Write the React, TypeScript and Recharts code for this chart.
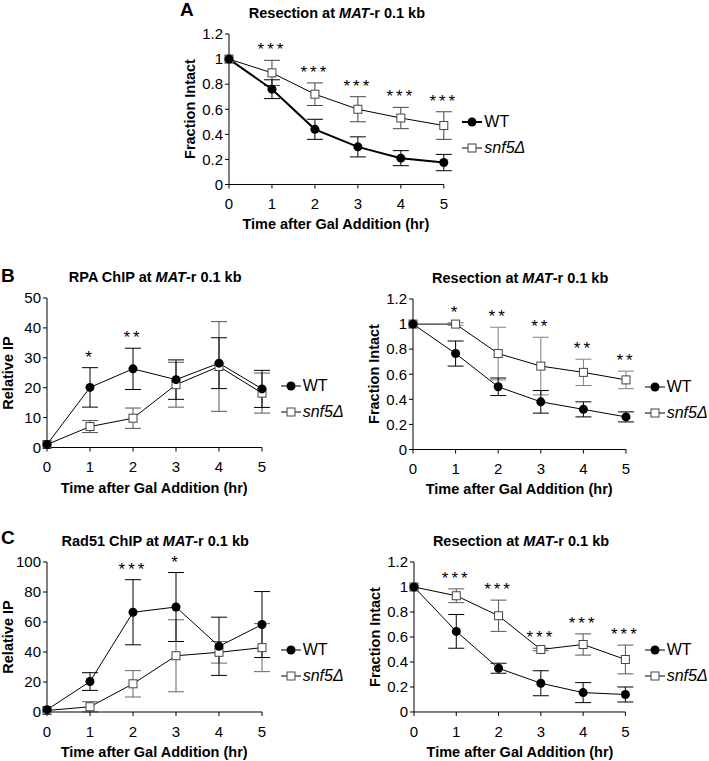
import React from "react";
import { LineChart, Line, XAxis, YAxis, ErrorBar, Legend, LabelList } from "recharts";

const FONT = '"Liberation Sans", Arial, sans-serif';

const hours = [0, 1, 2, 3, 4, 5];
const fracTicks = [0, 0.2, 0.4, 0.6, 0.8, 1, 1.2];
const rpaTicks = [0, 10, 20, 30, 40, 50];
const rad51Ticks = [0, 20, 40, 60, 80, 100];

// A - resection at MAT-r 0.1 kb
const resA_wt = [1, 0.76, 0.44, 0.3, 0.21, 0.175];
const resA_wtErr = [0, 0.075, 0.08, 0.08, 0.06, 0.065];
const resA_snf = [1, 0.89, 0.72, 0.6, 0.53, 0.47];
const resA_snfErr = [0, 0.1, 0.09, 0.1, 0.085, 0.11];
const resA_sig = ["", "***", "***", "***", "***", "***"];

// B - RPA ChIP
const rpa_wt = [1, 20.1, 26.3, 22.7, 28.2, 19.6];
const rpa_wtErr = [0, 6.6, 6.9, 6.6, 8.5, 6.2];
const rpa_snf = [1, 7, 9.8, 21, 27.1, 18.2];
const rpa_snfErr = [0, 2, 3.4, 7.5, 15, 6.7];
const rpa_sig = ["", "*", "**", "", "", ""];

// B - resection
const resB_wt = [1, 0.765, 0.5, 0.38, 0.32, 0.26];
const resB_wtErr = [0, 0.1, 0.07, 0.09, 0.06, 0.04];
const resB_snf = [1, 1, 0.765, 0.665, 0.615, 0.555];
const resB_snfErr = [0, 0.01, 0.21, 0.23, 0.105, 0.07];
const resB_sig = ["", "*", "**", "**", "**", "**"];

// C - Rad51 ChIP
const rad51_wt = [1.5, 20.3, 66.5, 70, 43.8, 58.3];
const rad51_wtErr = [0, 5.9, 21.7, 23, 19.4, 22];
const rad51_snf = [1, 3.5, 18.8, 37.5, 39.8, 42.9];
const rad51_snfErr = [0, 3.4, 8.8, 24, 7.2, 16];
const rad51_sig = ["", "", "***", "*", "", ""];

// C - resection
const resC_wt = [1, 0.645, 0.35, 0.23, 0.155, 0.14];
const resC_wtErr = [0, 0.135, 0.04, 0.1, 0.08, 0.06];
const resC_snf = [1, 0.93, 0.77, 0.5, 0.54, 0.42];
const resC_snfErr = [0, 0.055, 0.125, 0.01, 0.085, 0.115];
const resC_sig = ["", "***", "***", "***", "***", "***"];

const rows = (wt: number[], wtErr: number[], snf: number[], snfErr: number[], sig: string[]) =>
  hours.map((h, i) => ({
    h,
    wt: wt[i],
    wtErr: wtErr[i],
    snf: snf[i],
    snfErr: snfErr[i],
    sig: sig[i],
    top: Math.max(wt[i] + wtErr[i], snf[i] + snfErr[i]),
  }));

const SquareDot = (p: any) => (
  <rect key={`sq-${p.index}`} x={p.cx - 4} y={p.cy - 4} width={8} height={8} fill="#fff" stroke="#444" strokeWidth={1} />
);

const legendContent = (wtWidth: number) => (props: any) => {
  const order = ["wt", "snf"];
  const items = (props.payload || [])
    .filter((e: any) => order.includes(e.dataKey))
    .sort((a: any, b: any) => order.indexOf(a.dataKey) - order.indexOf(b.dataKey));
  return (
    <div style={{ fontFamily: FONT, fontSize: 16, color: "#000" }}>
      {items.map((entry: any) => (
        <div key={entry.dataKey} style={{ display: "flex", alignItems: "center", height: 26 }}>
          <svg width={20} height={12} style={{ display: "block" }}>
            <line x1={0} x2={20} y1={6} y2={6} stroke="#000" strokeWidth={entry.dataKey === "wt" ? wtWidth : 1} />
            {entry.dataKey === "wt" ? (
              <circle cx={10} cy={6} r={4.5} fill="#000" />
            ) : (
              <rect x={6} y={2} width={8} height={8} fill="#fff" stroke="#444" />
            )}
          </svg>
          <span style={{ marginLeft: 2, fontStyle: entry.dataKey === "snf" ? "italic" : "normal" }}>
            {entry.dataKey === "snf" ? "snf5\u0394" : "WT"}
          </span>
        </div>
      ))}
    </div>
  );
};

type PanelProps = {
  data: any[];
  x0: number;
  y0: number;
  w: number;
  h: number;
  yMax: number;
  yTicks: number[];
  yLabel: string;
  title: React.ReactNode;
  letter?: string;
  letterX?: number;
  letterY?: number;
  wtWidth: number;
  snfErrColor: string;
};

const ML = 60;
const MT = 50;
const MR = 150;
const XH = 60;

function Panel(p: PanelProps) {
  const text = { position: "absolute" as const, fontFamily: FONT, color: "#000", whiteSpace: "nowrap" as const, lineHeight: 1 };
  return (
    <>
      {p.letter && (
        <div style={{ ...text, left: p.letterX, top: p.letterY, fontSize: 19, fontWeight: "bold", transform: "translateY(-50%)" }}>
          {p.letter}
        </div>
      )}
      <div style={{ ...text, left: p.x0 + p.w / 2 + 1, top: p.y0 - 21, fontSize: 14.5, fontWeight: "bold", transform: "translate(-50%,-50%)" }}>
        {p.title}
      </div>
      <div style={{ ...text, left: p.x0 - 39, top: p.y0 + p.h / 2, fontSize: 14.5, fontWeight: "bold", transform: "translate(-50%,-50%) rotate(-90deg)" }}>
        {p.yLabel}
      </div>
      <div style={{ ...text, left: p.x0 + p.w / 2, top: p.y0 + p.h + 40, fontSize: 14.5, fontWeight: "bold", transform: "translate(-50%,-50%)" }}>
        Time after Gal Addition (hr)
      </div>
      <div style={{ position: "absolute", left: p.x0 - ML, top: p.y0 - MT }}>
        <LineChart
          width={ML + p.w + MR}
          height={MT + p.h + XH}
          data={p.data}
          margin={{ top: MT, right: MR, bottom: 0, left: 0 }}
          style={{ fontFamily: FONT }}
        >
          <XAxis
            type="number"
            dataKey="h"
            domain={[0, 5]}
            ticks={hours}
            interval={0}
            height={XH}
            tickSize={4}
            tickMargin={10}
            tick={{ fontSize: 15, fill: "#000" }}
            axisLine={{ stroke: "#000" }}
            tickLine={{ stroke: "#000" }}
          />
          <YAxis
            type="number"
            domain={[0, p.yMax]}
            ticks={p.yTicks}
            interval={0}
            width={ML}
            tickSize={4}
            tickMargin={2}
            tick={{ fontSize: 15, fill: "#000" }}
            axisLine={{ stroke: "#000" }}
            tickLine={{ stroke: "#000" }}
          />
          <Legend
            layout="vertical"
            align="center"
            verticalAlign="middle"
            content={legendContent(p.wtWidth)}
            wrapperStyle={{ left: ML + p.w + 19, top: MT + p.h / 2, width: 130 }}
          />
          <Line
            dataKey="snf"
            name="snf5Δ"
            stroke="#000"
            strokeWidth={1}
            dot={SquareDot}
            activeDot={false}
            isAnimationActive={false}
          >
            <ErrorBar dataKey="snfErr" width={8} stroke={p.snfErrColor} strokeWidth={1} direction="y" />
          </Line>
          <Line
            dataKey="wt"
            name="WT"
            stroke="#000"
            strokeWidth={p.wtWidth}
            dot={{ r: 4.5, fill: "#000", stroke: "#000", strokeWidth: 0 }}
            activeDot={false}
            isAnimationActive={false}
          >
            <ErrorBar dataKey="wtErr" width={8} stroke="#000" strokeWidth={1} direction="y" />
          </Line>
          <Line
            dataKey="top"
            stroke="none"
            dot={false}
            activeDot={false}
            legendType="none"
            isAnimationActive={false}
          >
            <LabelList dataKey="sig" position="top" offset={5} fontSize={17} fill="#000" letterSpacing={3} />
          </Line>
        </LineChart>
      </div>
    </>
  );
}

const matTitle = (prefix: string) => (
  <span>
    {prefix} at <i>MAT</i>-r 0.1 kb
  </span>
);

export default function App() {
  return (
    <div style={{ position: "absolute", left: 0, top: 0, width: 709, height: 761, background: "#fff", overflow: "hidden" }}>
      <Panel
        data={rows(resA_wt, resA_wtErr, resA_snf, resA_snfErr, resA_sig)}
        x0={228.5}
        y0={33.5}
        w={214.8}
        h={150.5}
        yMax={1.2}
        yTicks={fracTicks}
        yLabel="Fraction Intact"
        title={matTitle("Resection")}
        letter="A"
        letterX={180}
        letterY={9}
        wtWidth={2}
        snfErrColor="#444"
      />
      <Panel
        data={rows(rpa_wt, rpa_wtErr, rpa_snf, rpa_snfErr, rpa_sig)}
        x0={46.7}
        y0={298}
        w={215}
        h={149.5}
        yMax={50}
        yTicks={rpaTicks}
        yLabel="Relative IP"
        title={matTitle("RPA ChIP")}
        letter="B"
        letterX={1}
        letterY={275}
        wtWidth={1}
        snfErrColor="#555"
      />
      <Panel
        data={rows(resB_wt, resB_wtErr, resB_snf, resB_snfErr, resB_sig)}
        x0={412.7}
        y0={298.5}
        w={213}
        h={150.5}
        yMax={1.2}
        yTicks={fracTicks}
        yLabel="Fraction Intact"
        title={matTitle("Resection")}
        wtWidth={1}
        snfErrColor="#808080"
      />
      <Panel
        data={rows(rad51_wt, rad51_wtErr, rad51_snf, rad51_snfErr, rad51_sig)}
        x0={46.7}
        y0={561.7}
        w={215}
        h={150}
        yMax={100}
        yTicks={rad51Ticks}
        yLabel="Relative IP"
        title={matTitle("Rad51 ChIP")}
        letter="C"
        letterX={1}
        letterY={537}
        wtWidth={1}
        snfErrColor="#666"
      />
      <Panel
        data={rows(resC_wt, resC_wtErr, resC_snf, resC_snfErr, resC_sig)}
        x0={414.3}
        y0={561.7}
        w={211.4}
        h={150}
        yMax={1.2}
        yTicks={fracTicks}
        yLabel="Fraction Intact"
        title={matTitle("Resection")}
        wtWidth={1}
        snfErrColor="#555"
      />
    </div>
  );
}
